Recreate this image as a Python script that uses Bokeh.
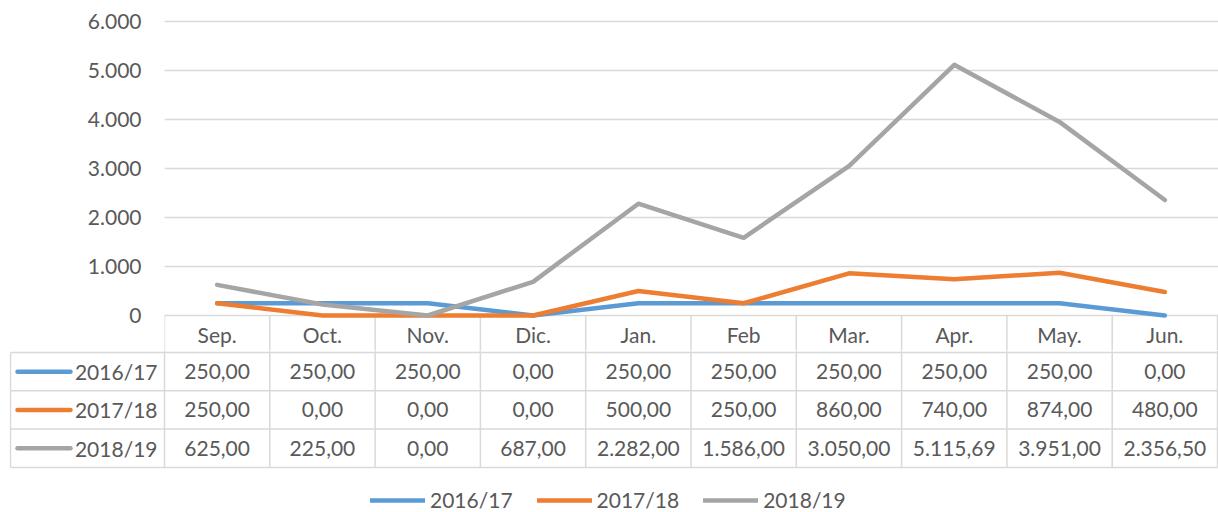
from bokeh.plotting import figure
from bokeh.models import Range1d, FixedTicker, Legend, LegendItem
from bokeh.layouts import column
from bokeh.core.properties import value
from bokeh.embed import file_html
from bokeh.resources import INLINE

# ---------------- data ----------------
months = ["Sep.", "Oct.", "Nov.", "Dic.", "Jan.", "Feb", "Mar.", "Apr.", "May.", "Jun."]
series_names = ["2016/17", "2017/18", "2018/19"]
v_2016_17 = [250, 250, 250, 0, 250, 250, 250, 250, 250, 0]
v_2017_18 = [250, 0, 0, 0, 500, 250, 860, 740, 874, 480]
v_2018_19 = [625, 225, 0, 687, 2282, 1586, 3050, 5115.69, 3951, 2356.5]
y_ticks = [0, 1000, 2000, 3000, 4000, 5000, 6000]
y_tick_labels = ["0", "1.000", "2.000", "3.000", "4.000", "5.000", "6.000"]

series_values = [v_2016_17, v_2017_18, v_2018_19]

# ---------------- style / layout ----------------
COLORS = ["#5B9BD5", "#ED7D31", "#A5A5A5"]
TEXT = "#595959"
GRID = "#D9D9D9"
FONT = value("Lato")
FS = value("21px")
LW = 4.5
BW = 1.5

W = 1218
COL_L = 164          # px where the month columns start
TBL_L = 10           # px where the table starts
CW = 105.3           # column width px
n = len(months)

# chart vertical layout
PLOT_TOP = 21        # px of the top gridline
ZERO_Y = 315         # px of the zero line
HEADER_H = 37        # header row height px
CHART_H = ZERO_Y + HEADER_H - 2
ymax = y_ticks[-1]
K = (ZERO_Y - PLOT_TOP) / ymax
FRAME_TOP = PLOT_TOP - 2
y_end = ymax + 2 / K
y_start = -(CHART_H - ZERO_Y) / K

# table rows
RH = 38.3
TH = 120
LEG_H = 512 - CHART_H - TH


def fmt(v):
    s = f"{v:,.2f}"
    return s.replace(",", "X").replace(".", ",").replace("X", ".")


def u(px):
    return (px - COL_L) / CW


xs = [i + 0.5 for i in range(n)]
bounds = list(range(n + 1))

# ---------------- chart (with header row) ----------------
p = figure(width=W, height=CHART_H, x_range=Range1d(0, u(W)), y_range=Range1d(y_start, y_end),
           output_backend="svg", toolbar_location=None, x_axis_location=None,
           min_border_left=COL_L, min_border_right=0, min_border_top=FRAME_TOP,
           min_border_bottom=0)
p.frame_align = False
p.outline_line_color = None
p.xgrid.visible = False
p.ygrid.ticker = FixedTicker(ticks=y_ticks)
p.ygrid.grid_line_color = GRID
p.ygrid.grid_line_width = BW
ax = p.yaxis[0]
ax.ticker = FixedTicker(ticks=y_ticks)
ax.major_label_overrides = {t: l for t, l in zip(y_ticks, y_tick_labels)}
ax.axis_line_color = None
ax.major_tick_line_color = None
ax.minor_tick_line_color = None
ax.major_tick_out = 0
ax.major_tick_in = 0
ax.major_label_standoff = 23
ax.major_label_text_font = "Lato"
ax.major_label_text_font_size = "21px"
ax.major_label_text_color = TEXT

# header row vertical borders and month labels
p.segment(x0=bounds, y0=[y_start] * len(bounds), x1=bounds, y1=[0] * len(bounds),
          line_color=GRID, line_width=BW)
p.text(x=xs, y=[-(HEADER_H / 2) / K] * n, text=months, text_font=FONT, text_font_size=FS,
       text_color=TEXT, text_align="center", text_baseline="middle")

for vals, c in zip(series_values, COLORS):
    p.line(xs, vals, line_color=c, line_width=LW, line_cap="round", line_join="round")

# ---------------- table body ----------------
top_row = 1 - 2 / RH
t = figure(width=W, height=TH,
           x_range=Range1d(u(TBL_L - 1), u(W)),
           y_range=Range1d(top_row + TH / RH, top_row),
           output_backend="svg", toolbar_location=None,
           x_axis_location=None, y_axis_location=None,
           min_border_left=TBL_L - 1, min_border_right=0,
           min_border_top=0, min_border_bottom=0)
t.frame_align = False
t.outline_line_color = None
t.xgrid.visible = False
t.ygrid.visible = False

left = u(TBL_L)
nrows = len(series_names) + 1
hy = list(range(1, nrows + 1))
t.segment(x0=[left] * len(hy), y0=hy, x1=[n] * len(hy), y1=hy, line_color=GRID, line_width=BW)
t.segment(x0=bounds, y0=[top_row] * len(bounds), x1=bounds, y1=[nrows] * len(bounds),
          line_color=GRID, line_width=BW)
t.segment(x0=[left], y0=[1], x1=[left], y1=[nrows], line_color=GRID, line_width=BW)

for r, (name, vals, c) in enumerate(zip(series_names, series_values, COLORS)):
    yc = r + 1.5
    t.text(x=xs, y=[yc] * n, text=[fmt(v) for v in vals], text_font=FONT, text_font_size=FS,
           text_color=TEXT, text_align="center", text_baseline="middle")
    t.text(x=[u(157)], y=[yc], text=[name], text_font=FONT, text_font_size=FS,
           text_color=TEXT, text_align="right", text_baseline="middle")
    t.segment(x0=[u(17)], y0=[yc], x1=[u(70)], y1=[yc], line_color=c, line_width=LW,
              line_cap="round")

# ---------------- legend ----------------
lf = figure(width=W, height=LEG_H, x_range=Range1d(0, 1), y_range=Range1d(0, 1),
            output_backend="svg", toolbar_location=None,
            x_axis_location=None, y_axis_location=None, min_border=0)
lf.frame_align = False
lf.outline_line_color = None
lf.xgrid.visible = False
lf.ygrid.visible = False
items = []
for name, c in zip(series_names, COLORS):
    r = lf.line(x=[-5, -4], y=[-5, -5], line_color=c, line_width=LW, line_cap="round")
    items.append(LegendItem(label=name, renderers=[r]))
legend = Legend(items=items, orientation="horizontal", location=(370, 0),
                glyph_width=55, glyph_height=20, label_height=20, label_standoff=5,
                spacing=24, padding=0, margin=0, border_line_color=None,
                background_fill_alpha=0, label_text_font="Lato",
                label_text_font_size="21px", label_text_color=TEXT)
lf.add_layout(legend)

layout = column(p, t, lf, spacing=0)
open("out.html", "w").write(file_html(layout, INLINE))
